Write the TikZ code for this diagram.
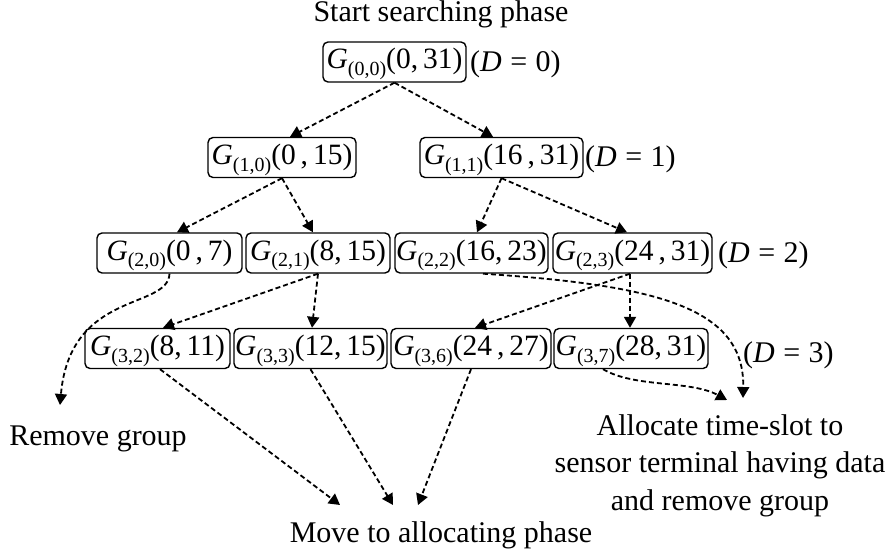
\documentclass[tikz,border=0pt]{standalone}
\usepackage{fontspec}
\setmainfont{Liberation Serif}
\usetikzlibrary{arrows.meta,calc}
\newcommand{\grp}[2]{\textit{G}\raisebox{-6.5pt}{\fontsize{20}{20}\selectfont #1}#2}
\begin{document}
\begin{tikzpicture}[x=1pt,y=-1pt,
  gbox/.style={draw, rounded corners=5pt, line width=1.4pt, minimum height=40pt, inner xsep=1pt, inner ysep=0pt, text height=26pt, text depth=12pt, font=\fontsize{29.5}{29.5}\selectfont},
  lbl/.style={font=\fontsize{30}{37.5}\selectfont, inner sep=0pt},
  conn/.style={line width=1.8pt, dash pattern=on 5pt off 3pt, -{Triangle[length=11pt,width=12pt]}}]
\useasboundingbox (0,0) rectangle (893,556);

\node[lbl, anchor=base] (start) at (441,22) {Start searching phase};

\node[gbox, minimum width=143pt] (g00) at (394.5,62) {\grp{(0,0)}{(0,\,31)}};
\node[lbl, anchor=west] (d0) at (470,64) {(\textit{D}\hspace{0.28em}=\hspace{0.28em}0)};

\node[gbox, minimum width=148pt] (g10) at (282,157.5) {\grp{(1,0)}{(0\,,\,15)}};
\node[gbox, minimum width=163pt] (g11) at (501.5,157.5) {\grp{(1,1)}{(16\,,\,31)}};
\node[lbl, anchor=west] (d1) at (585,159) {(\textit{D}\hspace{0.28em}=\hspace{0.28em}1)};

\node[gbox, minimum width=145pt] (g20) at (169.5,253) {\grp{(2,0)}{(0\,,\,7)}};
\node[gbox, minimum width=144pt] (g21) at (318,253) {\grp{(2,1)}{(8,\,15)}};
\node[gbox, minimum width=153pt] (g22) at (471.5,253) {\grp{(2,2)}{(16,\,23)}};
\node[gbox, minimum width=159pt] (g23) at (632.5,253) {\grp{(2,3)}{(24\,,\,31)}};
\node[lbl, anchor=west] (d2) at (718,255) {(\textit{D}\hspace{0.28em}=\hspace{0.28em}2)};

\node[gbox, minimum width=145pt] (g32) at (157.5,348.5) {\grp{(3,2)}{(8,\,11)}};
\node[gbox, minimum width=153pt] (g33) at (310.5,348.5) {\grp{(3,3)}{(12,\,15)}};
\node[gbox, minimum width=160pt] (g36) at (471,348.5) {\grp{(3,6)}{(24\,,\,27)}};
\node[gbox, minimum width=154pt] (g37) at (631,348.5) {\grp{(3,7)}{(28,\,31)}};
\node[lbl, anchor=west] (d3) at (743,355) {(\textit{D}\hspace{0.28em}=\hspace{0.28em}3)};

\node[lbl, anchor=base] (remove) at (98,445) {Remove group};
\node[lbl, anchor=base] (move) at (441,542) {Move to allocating phase};
\node[lbl, anchor=base, align=center] (alloc) at (720,510) {Allocate time-slot to\\sensor terminal having data\\and remove group};

\coordinate (rmEnd) at (60,405);
\coordinate (mvA) at (340,505);
\coordinate (mvB) at (393,505);
\coordinate (mvC) at (418,505);
\coordinate (alEndA) at (743,398);
\coordinate (alEndB) at (727,400);

\draw[conn] (g00.south) -- ([xshift=8pt]g10.north);
\draw[conn] (g00.south) -- ([xshift=-8.5pt]g11.north);
\draw[conn] (g10.south) -- ([xshift=7.5pt]g20.north);
\draw[conn] (g10.south) -- ([xshift=-5pt]g21.north);
\draw[conn] (g11.south) -- ([xshift=5.5pt]g22.north);
\draw[conn] (g11.south) -- ([xshift=-5.5pt]g23.north);
\draw[conn] (g20.south) .. controls (168,310) and (70,290) .. (rmEnd);
\draw[conn] (g21.south) -- ([xshift=5.5pt]g32.north);
\draw[conn] (g21.south) -- ([xshift=1.5pt]g33.north);
\draw[conn] ([xshift=11.5pt]g22.south) .. controls (650,285) and (745,305) .. (alEndA);
\draw[conn] ([xshift=-2.5pt]g23.south) -- ([xshift=4pt]g36.north);
\draw[conn] ([xshift=-2.5pt]g23.south) -- ([xshift=-1pt]g37.north);
\draw[conn] ([xshift=2.5pt]g32.south) -- (mvA);
\draw[conn] (g33.south) -- (mvB);
\draw[conn] (g36.south) -- (mvC);
\draw[conn] ([xshift=-28pt]g37.south) .. controls (635,388) and (690,380) .. (alEndB);
\end{tikzpicture}
\end{document}
